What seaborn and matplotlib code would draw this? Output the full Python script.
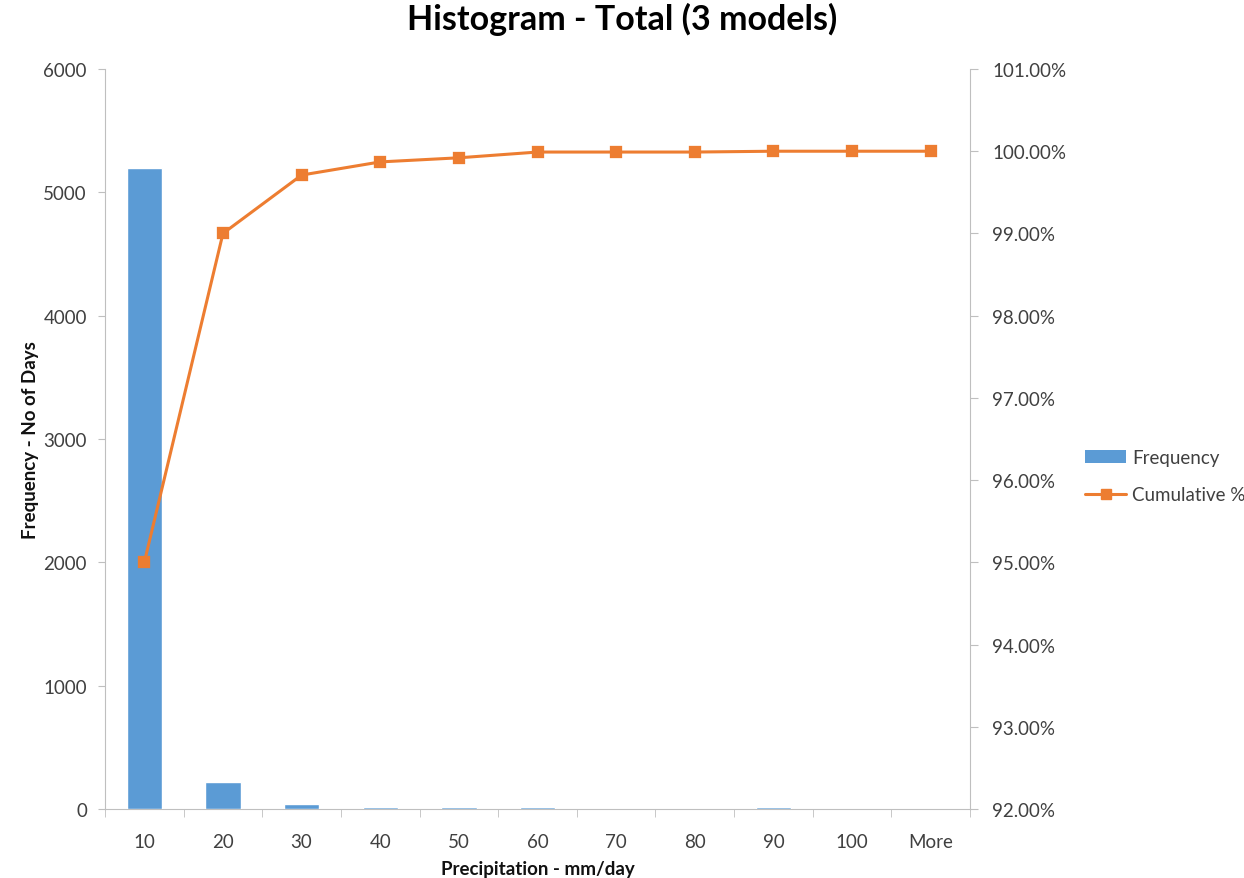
import matplotlib
matplotlib.use("Agg")
import matplotlib.pyplot as plt
import seaborn as sns
from matplotlib.ticker import FuncFormatter, FixedLocator
from matplotlib.lines import Line2D
from matplotlib.patches import Patch

bins = ["10", "20", "30", "40", "50", "60", "70", "80", "90", "100", "More"]
frequency = [5200, 219, 38, 18, 16, 16, 0, 0, 14, 0, 0]
cumulative = [95.00, 99.00, 99.71, 99.87, 99.92, 99.99, 99.99, 99.99, 100.00, 100.00, 100.00]

sns.set_style("white")
plt.rcParams['font.family'] = ['Lato', 'DejaVu Sans']

fig = plt.figure(figsize=(12.44, 8.79), dpi=100)
ax = fig.add_axes([105 / 1244, 1 - 810 / 879, 865 / 1244, 740 / 879])

sns.barplot(x=bins, y=frequency, color="#5B9BD5", saturation=1, width=0.45, ax=ax)
# bars drawn over the axis line so the tiny ones stay visible
for p in ax.patches:
    p.set_zorder(3)
ax.set_xlim(-0.5, 10.5)
ax.set_ylim(0, 6000)
ax.set_yticks(range(0, 6001, 1000))

ax2 = ax.twinx()
sns.pointplot(x=bins, y=cumulative, color="#ED7D31", markers="s", linestyles="-",
              markersize=7, linewidth=2.2, ax=ax2)
ax2.set_xlim(-0.5, 10.5)
ax2.set_ylim(92, 101)
ax2.set_yticks(range(92, 102))
ax2.yaxis.set_major_formatter(FuncFormatter(lambda v, p: f"{v:.2f}%"))
ax2.set_ylabel("")

grey = "#BFBFBF"
txt = "#404040"
for a in (ax, ax2):
    for s in a.spines.values():
        s.set_visible(False)
ax.spines["left"].set_visible(True)
ax.spines["bottom"].set_visible(True)
ax2.spines["right"].set_visible(True)
for s in ("left", "bottom"):
    ax.spines[s].set_color(grey)
ax2.spines["right"].set_color(grey)

ax.tick_params(axis="y", left=True, length=5, color=grey, labelsize=13.5, labelcolor=txt, pad=8)
ax.tick_params(axis="x", which="major", bottom=False, labelsize=13.5, labelcolor=txt, pad=14)
ax.xaxis.set_minor_locator(FixedLocator([i - 0.5 for i in range(12)]))
ax.tick_params(axis="x", which="minor", bottom=True, length=6, color=grey)
ax2.tick_params(axis="y", right=True, length=6, color=grey, labelsize=13.5, labelcolor=txt, pad=10)

ax.set_xlabel("Precipitation - mm/day", fontsize=13.5, fontweight="bold", labelpad=7, color="#111111")
ax.set_ylabel("Frequency - No of Days", fontsize=13.5, fontweight="bold", labelpad=3, color="#111111")
fig.suptitle("Histogram - Total (3 models)", fontsize=24.5, fontweight="bold", y=0.997, color="black")

handles = [
    Patch(facecolor="#5B9BD5", edgecolor="none"),
    Line2D([0], [0], color="#ED7D31", marker="s", markersize=7, linewidth=2.2),
]
fig.legend(handles, ["Frequency", "Cumulative %"], loc="center left",
           bbox_to_anchor=(1068 / 1244, 1 - 477 / 879), frameon=False, fontsize=13.5,
           handlelength=2.2, handletextpad=0.3, labelspacing=1.1, labelcolor=txt)

fig.savefig("out.png", dpi=100)
